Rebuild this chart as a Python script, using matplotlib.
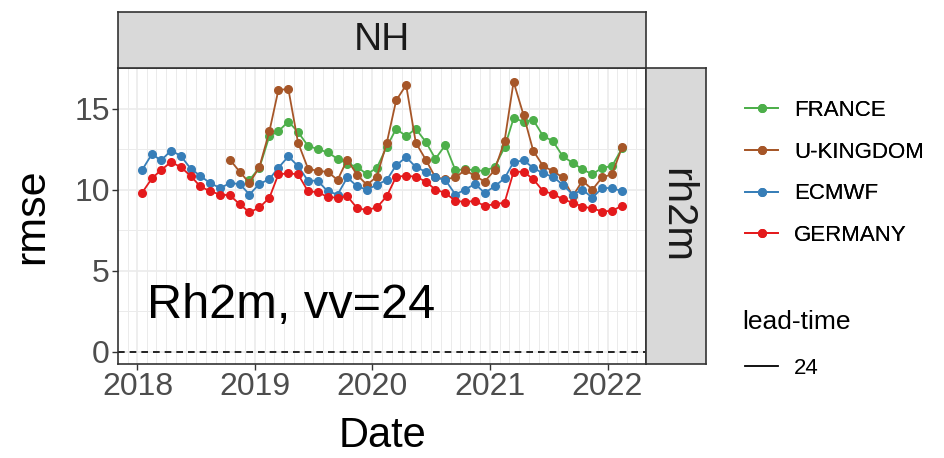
import numpy as np
import pandas as pd
import matplotlib
matplotlib.use("Agg")
import matplotlib.pyplot as plt
import matplotlib.dates as mdates
from matplotlib.lines import Line2D

plt.rcParams['font.family'] = ['Liberation Sans', 'DejaVu Sans']

# monthly verification scores, mid-month Jan 2018 .. Feb 2022
months = pd.date_range("2018-01-01", "2022-02-01", freq="MS") + pd.Timedelta(days=14)

germany = [9.8, 10.7, 11.2, 11.7, 11.4, 10.85, 10.2, 9.9, 9.7, 9.65, 9.1, 8.6,
           8.9, 9.5, 10.95, 11.0, 10.95, 9.9, 9.85, 9.55, 9.5, 9.6, 8.85, 8.75,
           8.9, 9.6, 10.8, 10.85, 10.8, 10.5, 10.0, 9.8, 9.3, 9.25, 9.3, 9.0,
           9.1, 9.2, 11.1, 11.1, 10.65, 9.9, 9.75, 9.4, 9.2, 8.95, 8.85, 8.65,
           8.7, 9.0]
ecmwf = [11.2, 12.2, 11.8, 12.4, 12.1, 11.3, 10.85, 10.4, 10.1, 10.4, 10.35, 9.7,
         10.35, 10.65, 11.35, 12.05, 11.45, 10.55, 10.55, 9.9, 9.7, 10.75, 10.2, 10.0,
         10.3, 10.6, 11.5, 12.0, 11.4, 11.1, 10.75, 10.6, 9.7, 10.0, 10.35, 9.8,
         10.2, 10.7, 11.7, 11.8, 11.35, 11.0, 10.8, 10.3, 9.7, 10.0, 9.5, 10.1,
         10.1, 9.9]
# FRANCE starts Dec 2018
france_start = 11
france = [10.6, 11.35, 13.3, 13.6, 14.2, 13.55, 12.7, 12.5, 12.3, 11.9, 11.6, 11.4,
          10.95, 11.35, 12.65, 13.75, 13.3, 13.75, 12.95, 11.9, 12.75, 11.2, 11.25, 11.2,
          11.15, 11.4, 12.6, 14.4, 14.2, 14.3, 13.3, 13.0, 12.05, 11.65, 11.25, 10.95,
          11.35, 11.45, 12.55]
# U-KINGDOM starts Oct 2018
ukingdom_start = 9
ukingdom = [11.85, 11.1, 10.4, 11.4, 13.6, 16.15, 16.2, 12.9, 11.3, 11.15, 11.1, 10.6,
            11.85, 10.9, 10.3, 10.8, 12.9, 15.5, 16.45, 12.9, 11.85, 10.75, 10.65, 10.75,
            11.2, 10.85, 10.5, 11.2, 13.0, 16.65, 14.6, 12.4, 11.45, 11.15, 10.75, 9.6,
            10.55, 10.0, 10.75, 10.95, 12.6]

models = ["FRANCE", "U-KINGDOM", "ECMWF", "GERMANY"]
colors = ["#4DAF4A", "#A65628", "#377EB8", "#E41A1C"]
values = [france, ukingdom, ecmwf, germany]
starts = [france_start, ukingdom_start, 0, 0]
lead_times = ["24"]

W, H = 944, 458
fig = plt.figure(figsize=(W / 100, H / 100), dpi=100)

# panel position in pixels
px_l, px_r, px_t, px_b = 118, 646, 68, 364
ax = fig.add_axes([px_l / W, 1 - px_b / H, (px_r - px_l) / W, (px_b - px_t) / H])

for name, col, vals, s in zip(models, colors, values, starts):
    ax.plot(months[s:s + len(vals)], vals, color=col, lw=1.3, marker="o",
            ms=5.5, mec=col, label=name)

ax.axhline(0, color="black", lw=1.2, ls=(0, (4, 3)))

ax.text(0.055, 2.1, "Rh2m, vv=24", transform=ax.get_yaxis_transform(),
        fontsize=35, color="black", va="baseline", ha="left")

# limits with ggplot-like 5% expansion
span = months[-1] - months[0]
ax.set_xlim(months[0] - span * 0.05, months[-1] + span * 0.05)
ymax = max(max(v) for v in values)
ax.set_ylim(-0.045 * ymax, ymax * 1.045)

ax.xaxis.set_major_locator(mdates.YearLocator())
ax.xaxis.set_major_formatter(mdates.DateFormatter("%Y"))
ax.xaxis.set_minor_locator(mdates.MonthLocator())
ax.set_yticks([0, 5, 10, 15])
ax.set_yticks([2.5, 7.5, 12.5, 17.5], minor=True)

ax.grid(which="major", color="#EBEBEB", lw=1.2)
ax.grid(which="minor", color="#EBEBEB", lw=0.7)
ax.set_axisbelow(True)
ax.tick_params(which="major", length=4, width=1, color="#333333",
               labelsize=23, labelcolor="#4D4D4D", pad=2)
ax.tick_params(which="minor", length=0)
for sp in ax.spines.values():
    sp.set_color("#333333")
    sp.set_linewidth(1.2)

ax.set_xlabel("Date", fontsize=30, labelpad=10)
ax.set_ylabel("rmse", fontsize=31, labelpad=16)

# facet strips
strip_top = fig.add_axes([px_l / W, 1 - px_t / H, (px_r - px_l) / W, (px_t - 12) / H])
strip_right = fig.add_axes([px_r / W, 1 - px_b / H, (706 - px_r) / W, (px_b - px_t) / H])
for sax, label, rot, fs in [(strip_top, "NH", 0, 28), (strip_right, "rh2m", -90, 30)]:
    sax.set_facecolor("#D9D9D9")
    sax.set_xticks([])
    sax.set_yticks([])
    for sp in sax.spines.values():
        sp.set_color("#333333")
        sp.set_linewidth(1.2)
    sax.text(0.5, 0.5, label, transform=sax.transAxes, ha="center", va="center",
             fontsize=fs, rotation=rot, color="#1A1A1A")

# legends
handles = [Line2D([], [], color=c, lw=1.3, marker="o", ms=5.5) for c in colors]
leg1 = fig.legend(handles, models, loc="upper left",
                  bbox_to_anchor=(745 / W, 1 - 100 / H), frameon=False,
                  fontsize=16, handlelength=1.5, handletextpad=0.7,
                  labelspacing=0.93, borderpad=0, borderaxespad=0)
fig.add_artist(leg1)
fig.text(742 / W, 1 - 322 / H, "lead-time", fontsize=19, va="center", ha="left")
leg2 = fig.legend([Line2D([], [], color="black", lw=1.3)], lead_times, loc="upper left",
                  bbox_to_anchor=(745 / W, 1 - 358 / H), frameon=False,
                  fontsize=16, handlelength=1.5, handletextpad=0.7,
                  borderpad=0, borderaxespad=0)

fig.savefig("out.png", dpi=100)
